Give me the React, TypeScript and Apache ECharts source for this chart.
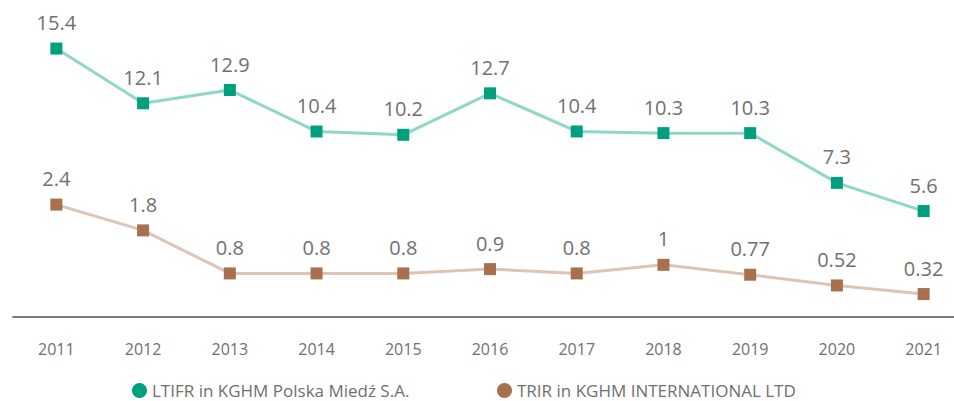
import React, { useEffect, useRef } from "react";
import * as echarts from "echarts";

const years = ["2011", "2012", "2013", "2014", "2015", "2016", "2017", "2018", "2019", "2020", "2021"];
const ltifr = [15.4, 12.1, 12.9, 10.4, 10.2, 12.7, 10.4, 10.3, 10.3, 7.3, 5.6];
const trir = [2.4, 1.8, 0.8, 0.8, 0.8, 0.9, 0.8, 1, 0.77, 0.52, 0.32];
const ltifrName = "LTIFR in KGHM Polska Miedź S.A.";
const trirName = "TRIR in KGHM INTERNATIONAL LTD";

const FONT = "'Open Sans', sans-serif";
const TEXT = "#707070";
const GREEN = "#00A07F";
const BROWN = "#A8704E";

export default function App() {
  const ref = useRef<HTMLDivElement>(null);
  useEffect(() => {
    const chart = echarts.init(ref.current!, undefined, { renderer: "svg" });
    const legendBase = {
      top: 382,
      padding: 0,
      itemGap: 36,
      itemWidth: 15,
      itemHeight: 15,
      icon: "circle",
      textStyle: { color: TEXT, fontSize: 17, fontFamily: FONT },
    };
    chart.setOption({
      animation: false,
      grid: { left: 13, width: 954, top: 30, bottom: 401 - 316.5 },
      legend: [
        { ...legendBase, left: 132, data: [{ name: ltifrName, itemStyle: { color: GREEN } }] },
        { ...legendBase, left: 497, data: [{ name: trirName, itemStyle: { color: BROWN } }] },
      ],
      xAxis: {
        type: "category",
        data: years,
        boundaryGap: true,
        axisLine: { onZero: false, lineStyle: { color: "#7a7a7a", width: 2 } },
        axisTick: { show: false },
        axisLabel: { color: TEXT, fontSize: 16, fontFamily: FONT, margin: 24 },
      },
      yAxis: [
        { type: "value", min: -0.76, max: 16.52, show: false, splitLine: { show: false } },
        { type: "value", min: -0.202, max: 6.46, show: false, splitLine: { show: false } },
      ],
      series: [
        {
          name: ltifrName,
          type: "line",
          yAxisIndex: 0,
          data: ltifr,
          symbol: "rect",
          symbolSize: 12,
          itemStyle: { color: GREEN },
          lineStyle: { color: "#8FD8C6", width: 3 },
          label: { show: true, position: "top", distance: 10, color: TEXT, fontSize: 20, fontFamily: FONT },
        },
        {
          name: trirName,
          type: "line",
          yAxisIndex: 1,
          data: trir,
          symbol: "rect",
          symbolSize: 12,
          itemStyle: { color: BROWN },
          lineStyle: { color: "#DCC5B6", width: 3 },
          label: { show: true, position: "top", distance: 10, color: TEXT, fontSize: 20, fontFamily: FONT },
        },
      ],
    });
    return () => chart.dispose();
  }, []);
  return (
    <div style={{ position: "absolute", left: 0, top: 0, width: 954, height: 401, overflow: "hidden" }}>
      <div ref={ref} style={{ width: 990, height: 401 }} />
    </div>
  );
}
